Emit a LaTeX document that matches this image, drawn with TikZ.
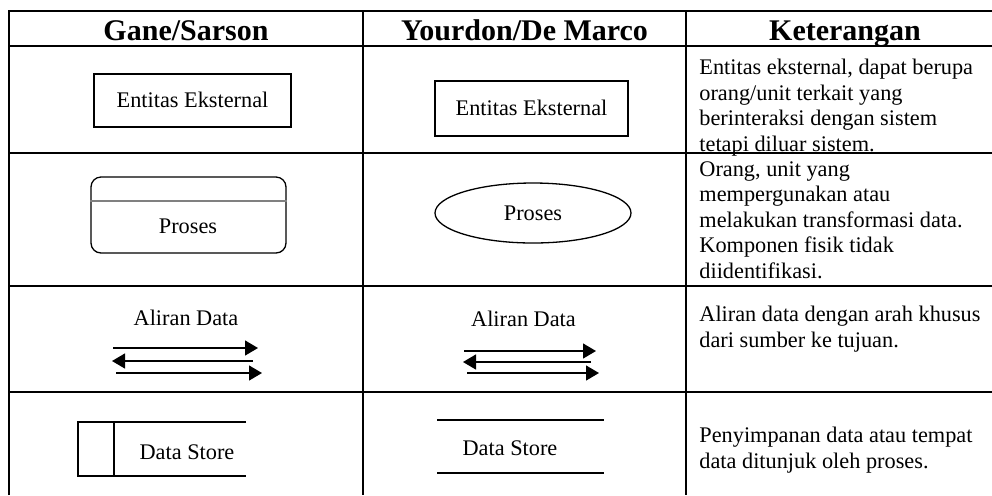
\documentclass[tikz,border=0pt]{standalone}
\usepackage{fontspec}
\setmainfont{Liberation Serif}
\usetikzlibrary{shapes.geometric,arrows.meta,positioning}

\begin{document}
\begin{tikzpicture}[x=0.5pt, y=-0.5pt,
    grid/.style={line width=1pt},
    head/.style={font=\fontsize{15}{17}\selectfont\bfseries, anchor=base, inner sep=0pt},
    txt/.style={font=\fontsize{11.15}{12.7}\selectfont, anchor=base, inner sep=0pt},
    note/.style={txt, anchor=base west, align=left},
    symb/.style={draw, line width=0.65pt, font=\fontsize{11.15}{12.7}\selectfont, text height=7.4pt, text depth=0pt, inner sep=0pt},
    entbox/.style={symb, rectangle},
    procbox/.style={symb, rectangle, rounded corners=5pt, minimum width=97.5pt, minimum height=38pt},
    procell/.style={symb, ellipse, minimum width=98pt, minimum height=30pt},
    flow/.style={line width=0.65pt, -{Triangle[length=6.5pt, width=7.5pt]}},
    store/.style={line width=0.65pt}
]
\useasboundingbox (0,0) rectangle (992,495);

% Garis tabel
\draw[grid] (9,495) -- (9,11) -- (992,11);
\draw[grid] (9,46) -- (992,46);
\draw[grid] (9,153) -- (992,153);
\draw[grid] (9,286) -- (992,286);
\draw[grid] (9,392) -- (992,392);
\draw[grid] (363,11) -- (363,495);
\draw[grid] (686,11) -- (686,495);

% Judul kolom
\node[head] (hgane) at (186,40) {Gane/Sarson};
\node[head] (hyour) at (524.5,40) {Yourdon/De Marco};
\node[head] (hket) at (845,40) {Keterangan};

% Entitas eksternal
\node[entbox, minimum width=98.5pt, minimum height=26.5pt] (gent) at (192.5,100.5) {Entitas Eksternal};
\node[entbox, minimum width=96.5pt, minimum height=27.5pt] (yent) at (531.5,108.5) {Entitas Eksternal};

% Proses
\node[procbox] (gproc) at (188.5,215) {};
\draw[gray, line width=0.65pt] (gproc.west |- 0,201) -- (gproc.east |- 0,201);
\node[txt] (gproctxt) at (188,233) {Proses};
\node[procell] (yproc) at (533,213) {Proses};

% Aliran data
\node[txt] (galir) at (186,325) {Aliran Data};
\draw[flow] (113,348) -- (258,348);
\draw[flow] (253,361) -- (112,361);
\draw[flow] (116,373) -- (262,373);

\node[txt] (yalir) at (523.5,326) {Aliran Data};
\draw[flow] (464,351) -- (596,351);
\draw[flow] (591,362) -- (463,362);
\draw[flow] (467,373) -- (599,373);

% Data store
\draw[store] (246,422) -- (78,422) -- (78,476) -- (246,476);
\draw[store] (114,422) -- (114,476);
\node[txt] (gstore) at (187,459) {Data Store};

\draw[store] (437,420) -- (604,420);
\draw[store] (437,473) -- (604,473);
\node[txt] (ystore) at (510,455) {Data Store};

% Keterangan (titik = garis dasar baris terakhir)
\node[note] (ket1) at (699,151) {Entitas eksternal, dapat berupa\\orang/unit terkait yang\\berinteraksi dengan sistem\\tetapi diluar sistem.};
\node[note] (ket2) at (699,278) {Orang, unit yang\\mempergunakan atau\\melakukan transformasi data.\\Komponen fisik tidak\\diidentifikasi.};
\node[note] (ket3) at (699,347) {Aliran data dengan arah khusus\\dari sumber ke tujuan.};
\node[note] (ket4) at (699,468) {Penyimpanan data atau tempat\\data ditunjuk oleh proses.};
\end{tikzpicture}
\end{document}
